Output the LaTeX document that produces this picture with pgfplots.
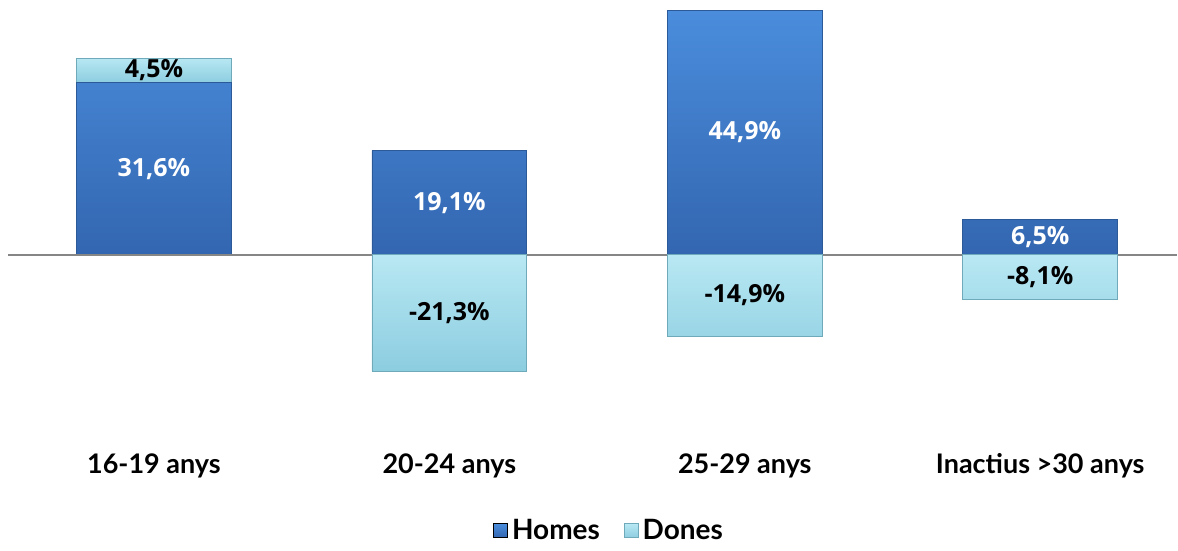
\documentclass[border=0pt]{standalone}
\usepackage{fontspec}
\setmainfont{Open Sans}
\newfontfamily\lato{Lato}
\usepackage{pgfplots}
\pgfplotsset{compat=1.18}

\definecolor{homesTop}{HTML}{4A8DDC}
\definecolor{homesBot}{HTML}{3366B0}
\definecolor{homesLine}{HTML}{2C5A98}
\definecolor{donesTop}{HTML}{B8E8F3}
\definecolor{donesBot}{HTML}{8CCDE0}
\definecolor{donesLine}{HTML}{6FAABB}

\pgfplotsset{
  base/.style={
    scale only axis, width=585pt, height=223.5pt,
    bar width=77.5pt,
    xmin=-0.494, xmax=3.463, ymin=-35.2, ymax=46.7,
    hide y axis, axis line style={draw=none}, major tick length=0pt,
    clip=false,
    point meta=rawy,
    visualization depends on=rawy\as\rawy,
    nodes near coords={\pgfmathprintnumber[fixed,fixed zerofill,precision=1,use comma,assume math mode=true]{\pgfplotspointmeta}\%},
    every node near coord/.append style={anchor=center,
        font=\bfseries\fontsize{12.5}{14}\selectfont,
        shift={(axis direction cs:0,-\rawy/2)}},
  },
  homes/.style={top color=homesTop, bottom color=homesBot, draw=homesLine,
    every node near coord/.append style={text=white}},
  dones/.style={top color=donesTop, bottom color=donesBot, draw=donesLine,
    every node near coord/.append style={text=black}},
}

\begin{document}
\begin{tikzpicture}
% positive part: Homes with Dones stacked on top
\begin{axis}[base, ybar stacked,
    xtick={0,1,2,3},
    xticklabels={16-19 anys, 20-24 anys, 25-29 anys, Inactius >30 anys},
    xticklabel style={font=\lato\bfseries\fontsize{13.5}{15}\selectfont},
]
\draw[color=gray!95, line width=1pt] (axis cs:-0.494,0) -- (axis cs:3.463,0);
\path (rel axis cs:-0.00684,1) rectangle (rel axis cs:1,-0.2103);
\addplot[homes] coordinates {(0,31.6) (1,19.1) (2,44.9) (3,6.5)};
\addplot[dones] coordinates {(0,4.5)};
\end{axis}
% negative Dones values
\begin{axis}[base, ybar, bar shift=0pt, xtick=\empty,
    legend style={at={(0.515,-0.188)}, anchor=center, draw=none,
        legend columns=-1, font=\lato\bfseries\fontsize{14}{16}\selectfont,
        /tikz/every even column/.append style={column sep=10pt}},
]
\addlegendimage{legend image code/.code={\fill[top color=homesTop, bottom color=homesBot] (0pt,-3.5pt) rectangle (7pt,3.5pt);}}
\addlegendentry{Homes}
\addplot[dones,
    legend image code/.code={\fill[top color=donesTop, bottom color=donesBot] (0pt,-3.5pt) rectangle (7pt,3.5pt);}]
    coordinates {(1,-21.3) (2,-14.9) (3,-8.1)};
\addlegendentry{Dones}
\end{axis}
\end{tikzpicture}
\end{document}
